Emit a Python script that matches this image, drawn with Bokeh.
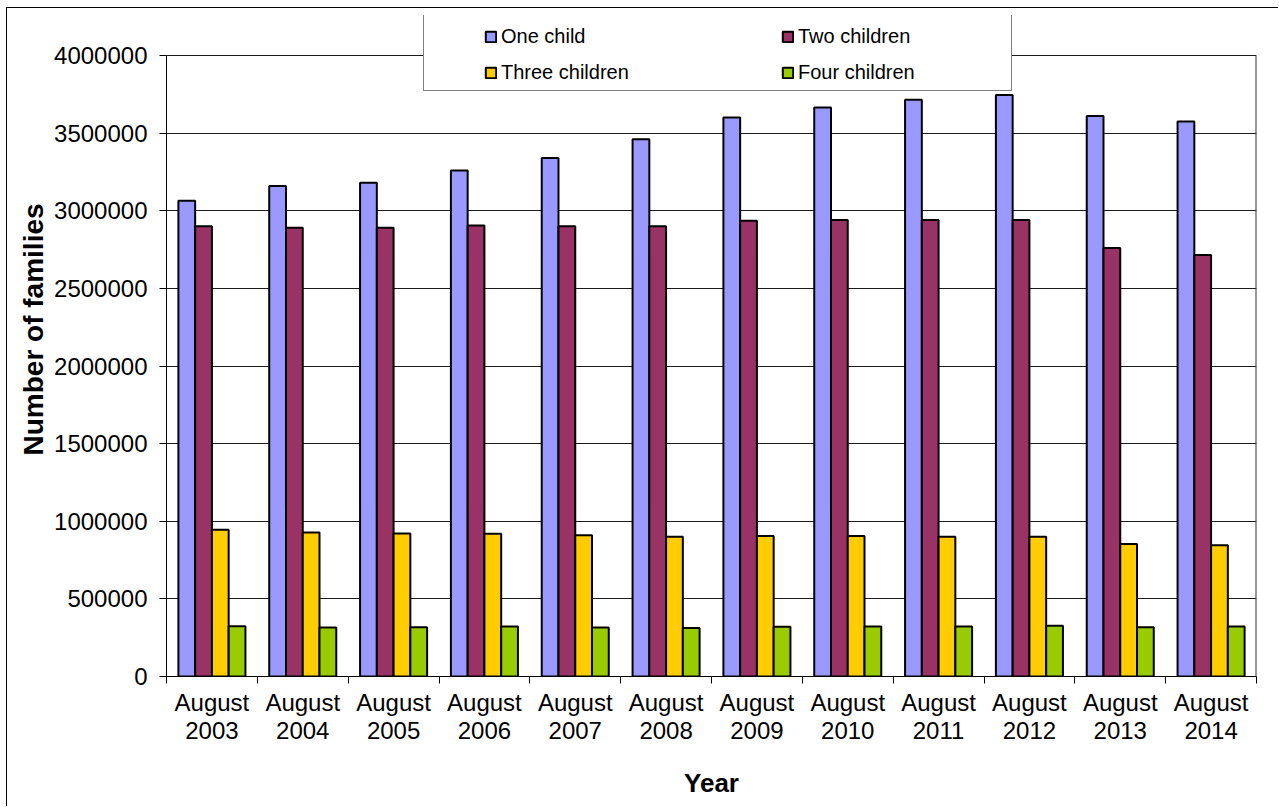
from bokeh.plotting import figure
from bokeh.models import (ColumnDataSource, FixedTicker, Legend, LegendItem,
                          NumeralTickFormatter, Range1d, Title)
from bokeh.transform import dodge
from bokeh.embed import file_html
from bokeh.resources import INLINE

years = ["2003", "2004", "2005", "2006", "2007", "2008",
         "2009", "2010", "2011", "2012", "2013", "2014"]
tick_labels = ["August\n" + y for y in years]

one_child = [3065000, 3160000, 3180000, 3260000, 3340000, 3460000,
             3600000, 3665000, 3715000, 3745000, 3610000, 3575000]
two_children = [2900000, 2890000, 2890000, 2905000, 2900000, 2900000,
                2935000, 2940000, 2940000, 2940000, 2760000, 2715000]
three_children = [945000, 927000, 921000, 919000, 910000, 900000,
                  905000, 905000, 900000, 900000, 853000, 846000]
four_children = [324000, 316000, 318000, 322000, 316000, 313000,
                 320000, 322000, 322000, 327000, 318000, 322000]

series_names = ["One child", "Two children", "Three children", "Four children"]
series_cols = ["one", "two", "three", "four"]
colors = ["#9999FF", "#993366", "#FFCC00", "#99CC00"]
y_ticks = [0, 500000, 1000000, 1500000, 2000000, 2500000, 3000000, 3500000, 4000000]
y_max = 4000000

FONT = "Liberation Sans"

xpos = [i + 0.5 for i in range(len(years))]
boundaries = list(range(len(years) + 1))
src = ColumnDataSource(dict(x=xpos, one=one_child, two=two_children,
                            three=three_children, four=four_children))

# frame is extended upward so that the legend (which overlaps the top of the
# plot area) is not clipped; axes are bounded to 0..y_max
p = figure(width=1272, height=799, x_range=(0, len(years)),
           y_range=Range1d(0, y_max * 661 / 621),
           output_backend="svg", toolbar_location=None,
           min_border_left=159, min_border_right=23, min_border_top=7,
           min_border_bottom=131)
p.styles = {"margin-left": "6px", "margin-top": "7px",
            "border-left": "1px solid #000", "border-top": "1px solid #000"}
p.background_fill_color = "white"
p.border_fill_color = "white"
p.outline_line_color = None

bw = 0.1845
offsets = [-1.5 * bw, -0.5 * bw, 0.5 * bw, 1.5 * bw]
renderers = []
for col, off, c in zip(series_cols, offsets, colors):
    r = p.vbar(x=dodge("x", off, range=p.x_range), top=col, width=bw, source=src,
               fill_color=c, line_color="black", line_width=2)
    renderers.append(r)

# right border of the plot area (half of it falls on the frame edge)
p.segment(x0=[len(years)], y0=[0], x1=[len(years)], y1=[y_max],
          line_color="#333333", line_width=2)

# x axis
p.xaxis.ticker = FixedTicker(ticks=xpos, minor_ticks=boundaries)
p.xaxis.major_label_overrides = {x: lab for x, lab in zip(xpos, tick_labels)}
p.xaxis.major_tick_line_color = None
p.xaxis.minor_tick_line_color = "#000000"
p.xaxis.minor_tick_out = 7
p.xaxis.minor_tick_in = 0
p.xaxis.major_label_standoff = 5
p.xaxis.major_label_text_line_height = 1.05
p.xaxis.axis_line_color = "#000000"
p.xgrid.visible = False

# y axis
p.yaxis.ticker = FixedTicker(ticks=y_ticks)
p.yaxis.bounds = (0, y_max)
p.yaxis.formatter = NumeralTickFormatter(format="0")
p.yaxis.major_tick_out = 7
p.yaxis.major_tick_in = 0
p.yaxis.minor_tick_line_color = None
p.yaxis.major_label_standoff = 12
p.yaxis.axis_line_color = "#000000"
p.ygrid.grid_line_color = "#1a1a1a"
p.ygrid.grid_line_width = 1

for ax in (p.xaxis[0], p.yaxis[0]):
    ax.major_label_text_font = FONT
    ax.major_label_text_font_size = "24px"
    ax.major_label_text_color = "black"

p.xaxis.axis_label = "Year"
p.xaxis.axis_label_text_font = FONT
p.xaxis.axis_label_text_font_size = "26px"
p.xaxis.axis_label_text_font_style = "bold"
p.xaxis.axis_label_text_color = "black"
p.xaxis.axis_label_standoff = 21

# y axis title (placed slightly above the frame centre, as in the original)
ytitle = Title(text="Number of families", align="left", offset=221, standoff=6,
               text_font=FONT, text_font_size="28px", text_font_style="bold",
               text_color="black")
p.add_layout(ytitle, "left")

# legend box (outer frame); tuple location = bottom-left corner, relative to frame
dummy = p.scatter(x=[], y=[], alpha=0)
box = Legend(items=[LegendItem(label=" ", renderers=[dummy])],
             location=(257, 585), padding=0, spacing=0, margin=0,
             glyph_width=1, glyph_height=75, label_width=586, label_height=75,
             label_standoff=0, border_line_color="#000000", border_line_width=1,
             background_fill_color="white", background_fill_alpha=1.0)
p.add_layout(box, "center")

# legend entries, column-major order -> rows: One/Two, Three/Four
order = [0, 2, 1, 3]
items = [LegendItem(label=series_names[i], renderers=[renderers[i]]) for i in order]
leg = Legend(items=items, ncols=2, location=(318, 592), padding=0, spacing=12,
             margin=0, glyph_width=13, glyph_height=13, label_width=268,
             label_height=24, label_standoff=4, border_line_alpha=0,
             background_fill_alpha=0)
leg.label_text_font = FONT
leg.label_text_font_size = "20px"
leg.label_text_color = "black"
p.add_layout(leg, "center")

open("out.html", "w").write(file_html(p, INLINE))
